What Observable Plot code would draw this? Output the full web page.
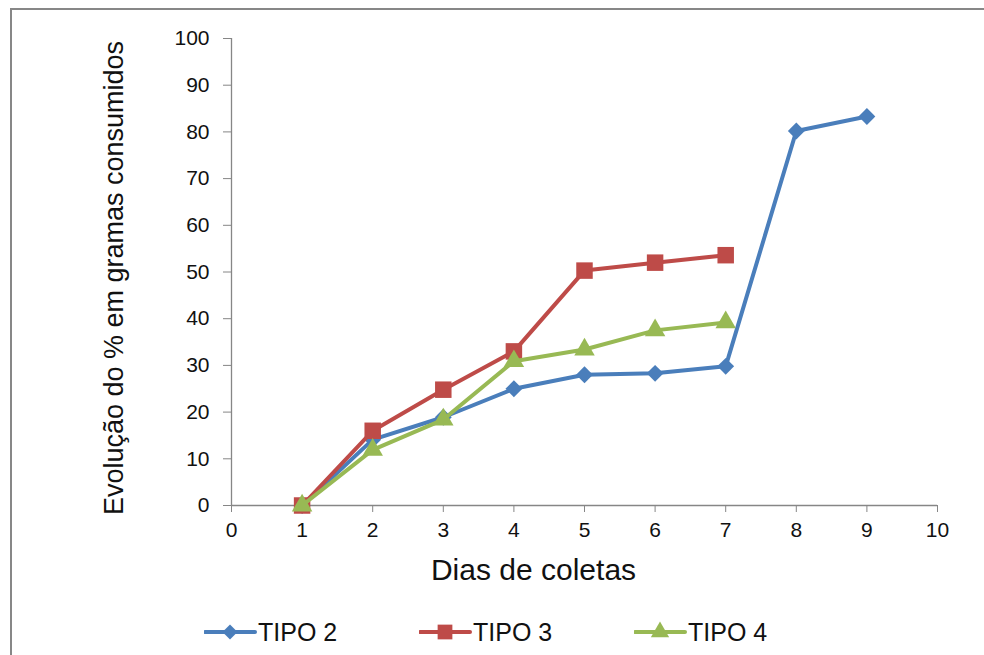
<!DOCTYPE html>
<html>
<head>
<meta charset="utf-8">
<script src="https://cdn.jsdelivr.net/npm/d3@7"></script>
<script src="https://cdn.jsdelivr.net/npm/@observablehq/plot@0.6"></script>
<style>
  html, body { margin: 0; padding: 0; background: #fff; }
  body { font-family: "Liberation Sans", Arial, sans-serif; }
  #wrap { position: relative; width: 984px; height: 655px; overflow: hidden; }
  #frame { position: absolute; left: 10px; top: 8px; width: 1000px; height: 700px;
           border-top: 2px solid #878787; border-left: 2px solid #878787; pointer-events: none; }
  #chart { position: absolute; left: 0; top: 0; }
  #legend { position: absolute; left: 204px; top: 618px; height: 28px; display: flex; align-items: center; }
  .item { display: flex; align-items: center; width: 215px; font-size: 25px; color: #111; }
  .item svg { display: block; margin-right: 1px; }
</style>
</head>
<body>
<div id="wrap">
  <div id="chart"></div>
  <div id="legend"></div>
  <div id="frame"></div>
</div>
<script>
// ---- data ----
const days2 = [1, 2, 3, 4, 5, 6, 7, 8, 9];
const tipo2 = [0, 14.1, 18.9, 25.0, 28.0, 28.3, 29.8, 80.2, 83.3];
const days3 = [1, 2, 3, 4, 5, 6, 7];
const tipo3 = [0, 16.0, 24.8, 33.0, 50.3, 52.0, 53.6];
const days4 = [1, 2, 3, 4, 5, 6, 7];
const tipo4 = [0, 11.9, 18.4, 30.9, 33.4, 37.5, 39.2];
const seriesNames = ["TIPO 2", "TIPO 3", "TIPO 4"];
const xTicks = [0, 1, 2, 3, 4, 5, 6, 7, 8, 9, 10];
const yTicks = [0, 10, 20, 30, 40, 50, 60, 70, 80, 90, 100];
const xTitle = "Dias de coletas";
const yTitle = "Evolução do % em gramas consumidos";

// ---- styles ----
const seriesColors = ["#4A7EBB", "#BE4B48", "#98B954"];
const seriesSymbols = ["diamond2", "square", "triangle"];
const seriesR = [7.6, 9.3, 7.6];
const axisColor = "#868686";
const font = "'Liberation Sans', Arial, sans-serif";

const seriesData = [
  days2.map((d, i) => ({day: d, value: tipo2[i], series: seriesNames[0]})),
  days3.map((d, i) => ({day: d, value: tipo3[i], series: seriesNames[1]})),
  days4.map((d, i) => ({day: d, value: tipo4[i], series: seriesNames[2]}))
];

const seriesMarks = seriesData.flatMap((rows, k) => [
  Plot.line(rows, {x: "day", y: "value", stroke: seriesColors[k], strokeWidth: 4, strokeLinejoin: "round"}),
  Plot.dot(rows, {x: "day", y: "value", symbol: () => seriesSymbols[k], fill: seriesColors[k], r: seriesR[k], stroke: "none"})
]);

const chart = Plot.plot({
  width: 984,
  height: 600,
  marginLeft: 231,
  marginRight: 47,
  marginTop: 38,
  marginBottom: 95,
  style: {fontFamily: font, color: "#111", background: "transparent", overflow: "visible"},
  x: {domain: [0, 10]},
  y: {domain: [0, 100]},
  symbol: {type: "identity"},
  marks: [
    Plot.ruleY([0], {stroke: axisColor, strokeWidth: 1.3}),
    Plot.ruleX([0], {stroke: axisColor, strokeWidth: 1.3}),
    Plot.axisX({ticks: xTicks, tickSize: 7, tickPadding: 10, stroke: axisColor, label: null, fontSize: 21, fill: "#111"}),
    Plot.axisY({ticks: yTicks, tickSize: 8, tickPadding: 14, stroke: axisColor, label: null, fontSize: 21, fill: "#111"}),
    Plot.text([yTitle], {text: d => d, frameAnchor: "left", rotate: -90, dx: -128, dy: 6, lineAnchor: "top", textAnchor: "middle", fontSize: 27, fill: "#111"}),
    Plot.text([xTitle], {text: d => d, frameAnchor: "bottom", dx: -51, dy: 74, lineAnchor: "bottom", textAnchor: "middle", fontSize: 30, fill: "#111"}),
    ...seriesMarks
  ]
});
document.getElementById("chart").appendChild(chart);

// ---- legend ----
const legend = d3.select("#legend");
seriesNames.forEach((name, k) => {
  const item = legend.append("div").attr("class", "item");
  const svg = item.append("svg").attr("width", 53).attr("height", 22);
  svg.append("line").attr("x1", 1).attr("x2", 51).attr("y1", 11).attr("y2", 11)
    .attr("stroke", seriesColors[k]).attr("stroke-width", 4).attr("stroke-linecap", "round");
  const symType = [d3.symbolDiamond2, d3.symbolSquare, d3.symbolTriangle][k];
  svg.append("path").attr("transform", "translate(26,11)")
    .attr("d", d3.symbol(symType, Math.PI * seriesR[k] * seriesR[k] * 0.8)())
    .attr("fill", seriesColors[k]);
  item.append("span").text(name);
});
</script>
</body>
</html>
